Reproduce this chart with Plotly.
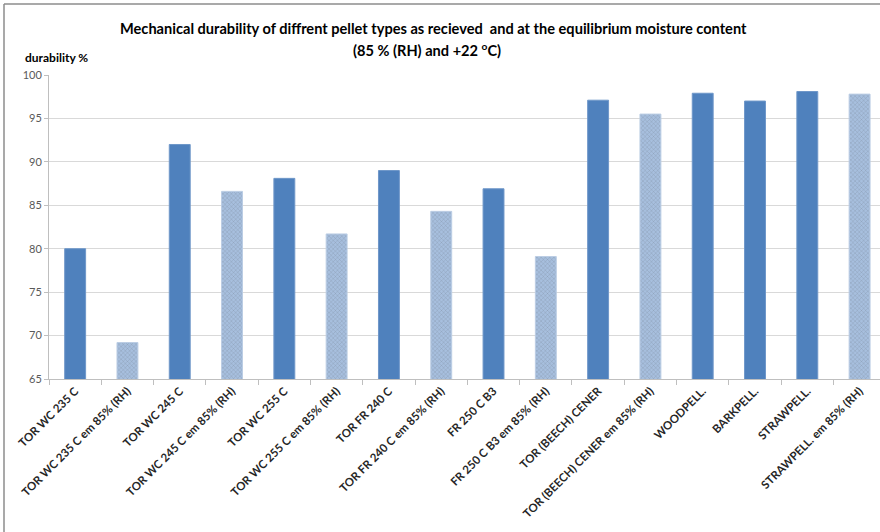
import plotly.graph_objects as go

# Pellet types, as received and after conditioning at 85 % RH
categories = [
    "TOR WC 235 C", "TOR WC 235 C em 85% (RH)",
    "TOR WC 245 C", "TOR WC 245 C em 85% (RH)",
    "TOR WC 255 C", "TOR WC 255 C em 85% (RH)",
    "TOR FR 240 C", "TOR FR 240 C em 85% (RH)",
    "FR 250 C B3", "FR 250 C B3 em 85% (RH)",
    "TOR (BEECH) CENER", "TOR (BEECH) CENER em 85% (RH)",
    "WOODPELL.", "BARKPELL.", "STRAWPELL.", "STRAWPELL. em 85% (RH)",
]
durability = [80.0, 69.2, 92.0, 86.6, 88.1, 81.7, 89.0, 84.3,
              86.9, 79.1, 97.1, 95.5, 97.9, 97.0, 98.1, 97.8]
conditioned = [False, True, False, True, False, True, False, True,
               False, True, False, True, False, False, False, True]
y_ticks = [65, 70, 75, 80, 85, 90, 95, 100]

DARK = "#4F81BD"
LIGHT = "#A7BFDE"

colors = [LIGHT if c else DARK for c in conditioned]
line_colors = ["#BBCDE4" if c else "#6F97C9" for c in conditioned]
pattern_shapes = ["x" if c else "" for c in conditioned]

fig = go.Figure()
fig.add_trace(go.Bar(
    x=categories,
    y=durability,
    base=0,
    width=0.4,
    marker=dict(
        color=colors,
        line=dict(color=line_colors, width=1),
        pattern=dict(shape=pattern_shapes, fgcolor="#B2C7E2",
                     size=3, solidity=0.15, fillmode="overlay"),
    ),
    showlegend=False,
    hoverinfo="x+y",
))

font_family = "Lato, 'Open Sans', sans-serif"

fig.update_layout(
    width=880,
    height=532,
    margin=dict(l=49, r=0, t=75, b=153),
    paper_bgcolor="white",
    plot_bgcolor="white",
    font=dict(family=font_family, color="#404040"),
    bargap=0.6,
    xaxis=dict(
        type="category",
        range=[-0.5, 15.39],
        tickangle=-45,
        tickfont=dict(family=font_family, size=11.5, color="#262626", weight="bold"),
        showline=True,
        linecolor="#BFBFBF",
        linewidth=1,
        ticks="outside",
        tickson="boundaries",
        ticklen=5,
        tickcolor="#BFBFBF",
        showgrid=False,
        fixedrange=True,
    ),
    yaxis=dict(
        range=[65, 100],
        tickvals=y_ticks,
        ticktext=[str(v) for v in y_ticks],
        tickfont=dict(family=font_family, size=11, color="#595959"),
        showgrid=True,
        gridcolor="#D9D9D9",
        gridwidth=1,
        showline=True,
        linecolor="#BFBFBF",
        ticks="outside",
        ticklen=4,
        tickcolor="#BFBFBF",
        zeroline=False,
        fixedrange=True,
    ),
    annotations=[
        dict(
            text="Mechanical durability of diffrent pellet types as recieved  and at the equilibrium moisture content",
            xref="paper", yref="paper", x=(433 - 49) / 831, y=(379 - 28) / 304,
            xanchor="center", yanchor="middle", showarrow=False,
            font=dict(family=font_family, size=14.6, color="#000000", weight="bold"),
        ),
        dict(
            text="(85 % (RH) and +22 <sup>o</sup>C)",
            xref="paper", yref="paper", x=(427 - 49) / 831, y=(379 - 49) / 304,
            xanchor="center", yanchor="middle", showarrow=False,
            font=dict(family=font_family, size=14.6, color="#000000", weight="bold"),
        ),
        dict(
            text="durability %",
            xref="paper", yref="paper", x=(23 - 49) / 831, y=(379 - 58) / 304,
            xanchor="left", yanchor="middle", showarrow=False,
            font=dict(family=font_family, size=12, color="#000000", weight="bold"),
        ),
    ],
    shapes=[
        # chart frame (left and top edges)
        dict(type="line", xref="paper", yref="paper",
             x0=(4 - 49) / 831, x1=(900 - 49) / 831,
             y0=(379 - 4) / 304, y1=(379 - 4) / 304,
             line=dict(color="#8C8C8C", width=1.5)),
        dict(type="line", xref="paper", yref="paper",
             x0=(4 - 49) / 831, x1=(4 - 49) / 831,
             y0=(379 - 4) / 304, y1=(379 - 560) / 304,
             line=dict(color="#8C8C8C", width=1.5)),
    ],
)

fig.write_html("out.html")
